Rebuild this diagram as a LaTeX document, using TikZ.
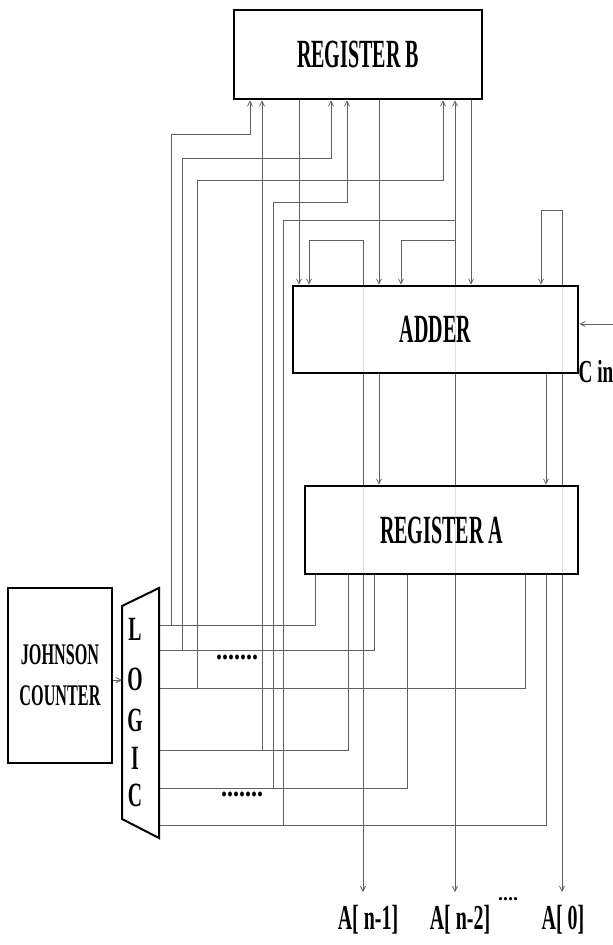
\documentclass[tikz,border=0pt]{standalone}
\usepackage{graphicx}
\usepackage{fontspec}
\setmainfont{Liberation Serif}
\usetikzlibrary{arrows.meta,calc,backgrounds}
\tikzset{
  box/.style={draw=black, line width=2.6pt, fill=white, fill opacity=0.8, text opacity=1, inner sep=0pt},
  wire/.style={draw=black!62, line width=0.85pt},
  arr/.style={wire, -{Straight Barb[length=5pt,width=5pt,line width=0.85pt]}},
}
\newcommand{\cond}[3]{\scalebox{#1}[1]{\fontsize{#2}{#2}\selectfont\bfseries #3}}
\begin{document}
\begin{tikzpicture}[x=1pt,y=-1pt]
\useasboundingbox (0,0) rectangle (613,945);
% boxes
\node[box, minimum width=248pt, minimum height=89pt] (regB) at (358,54.5) {\cond{0.5}{40}{REGISTER B}};
\node[box, minimum width=285pt, minimum height=87pt] (adder) at (435.5,329.5) {\raisebox{-2pt}{\cond{0.5}{40}{ADDER}}};
\node[box, minimum width=273pt, minimum height=88pt] (regA) at (441.5,530) {\cond{0.5}{40}{REGISTER A}};
\node[box, line width=2.2pt, minimum width=104pt, minimum height=175pt, align=center,
      font=\fontsize{30}{41}\selectfont\bfseries] (jc) at (60,675.5)
      {\scalebox{0.54}[1]{JOHNSON}\\\scalebox{0.54}[1]{COUNTER}};
% logic block
\draw[line width=2pt, fill=white] (122,606) -- (159,588) -- (159,838) -- (122,819) -- cycle;
\node (lL) at (135,629) {\cond{0.58}{34}{L}};
\node (lO) at (135,679) {\cond{0.58}{34}{O}};
\node (lG) at (135,720) {\cond{0.58}{34}{G}};
\node (lI) at (135,758) {\cond{0.58}{34}{I}};
\node (lC) at (135,795) {\cond{0.58}{34}{C}};
\coordinate (lin) at (122,680);
\coordinate (o1) at (159,625);
\coordinate (o2) at (159,650);
\coordinate (o3) at (159,688);
\coordinate (o4) at (159,750);
\coordinate (o5) at (159,788);
\coordinate (o6) at (159,825);
% labels
\node (cin) at (596,372) {\cond{0.6}{32}{C in}};
\node (an1) at (368,920) {\cond{0.57}{35}{A[ n-1]}};
\node (an2) at (460,920) {\cond{0.57}{35}{A[ n-2]}};
\node (a0)  at (563,920) {\cond{0.57}{35}{A[ 0]}};
\node (dd) at (508,899) {\fontsize{20}{20}\selectfont\bfseries ....};
\node (d1) at (237,657) {\scalebox{0.8}[1]{\fontsize{30}{30}\selectfont\bfseries .......}};
\node (d2) at (242,794) {\scalebox{0.8}[1]{\fontsize{30}{30}\selectfont\bfseries .......}};
\coordinate (t1) at (363,892);
\coordinate (t2) at (455,892);
\coordinate (t3) at (562,892);
\coordinate (cs) at (613,324);
\begin{scope}[on background layer]
% johnson -> logic
\draw[arr] (jc.east |- lin) -- (lin);
% logic outputs to register A, with branches to register B
\draw[wire] (o1) -- (315,625) -- (regA.south -| 315,0);
\draw[arr] (171,625) -- (171,134) -- (250,134) -- (regB.south -| 250,0);
\draw[wire] (o2) -- (374,650) -- (regA.south -| 374,0);
\draw[arr] (182,650) -- (182,158) -- (331,158) -- (regB.south -| 331,0);
\draw[wire] (o3) -- (525,688) -- (regA.south -| 525,0);
\draw[arr] (197,688) -- (197,180) -- (443,180) -- (regB.south -| 443,0);
\draw[wire] (o4) -- (348,750) -- (regA.south -| 348,0);
\draw[arr] (262,750) -- (regB.south -| 262,0);
\draw[wire] (o5) -- (407,788) -- (regA.south -| 407,0);
\draw[arr] (273,788) -- (273,202) -- (347,202) -- (regB.south -| 347,0);
\draw[wire] (o6) -- (546,825) -- (regA.south -| 546,0);
\draw[arr] (283,825) -- (283,220) -- (455,220) -- (regB.south -| 455,0);
% register B -> adder
\draw[arr] (regB.south -| 299,0) -- (adder.north -| 299,0);
\draw[arr] (regB.south -| 379,0) -- (adder.north -| 379,0);
\draw[arr] (regB.south -| 471,0) -- (adder.north -| 471,0);
% adder -> register A
\draw[arr] (adder.south -| 379,0) -- (regA.north -| 379,0);
\draw[arr] (adder.south -| 546,0) -- (regA.north -| 546,0);
% outputs with feedback loops
\draw[arr] (363,240) -- (t1);
\draw[arr] (363,240) -- (309,240) -- (adder.north -| 309,0);
\draw[arr] (455,220) -- (t2);
\draw[arr] (455,240) -- (401,240) -- (adder.north -| 401,0);
\draw[arr] (562,210) -- (t3);
\draw[arr] (562,210) -- (541,210) -- (adder.north -| 541,0);
% carry in
\draw[arr] (cs) -- (adder.east |- cs);
\end{scope}
\end{tikzpicture}
\end{document}
